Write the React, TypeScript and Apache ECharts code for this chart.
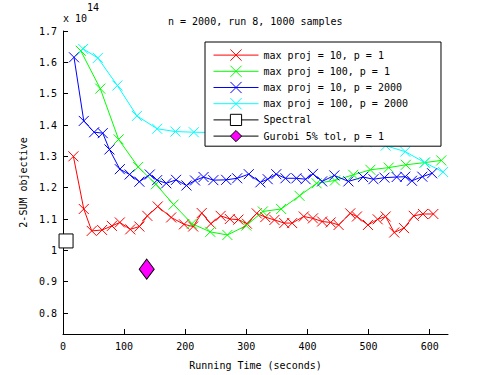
import React, { useEffect, useRef } from "react";
import * as echarts from "echarts";

const TITLE = "n = 2000, run 8, 1000 samples";
const X_NAME = "Running Time (seconds)";
const Y_NAME = "2-SUM objective";
const X_TICKS = [0, 100, 200, 300, 400, 500, 600];
const Y_TICKS = [0.8, 0.9, 1.0, 1.1, 1.2, 1.3, 1.4, 1.5, 1.6, 1.7];

const RED_NAME = "max proj = 10, p = 1";
const RED_T = [17, 34, 47, 64, 80, 93, 110, 125, 138, 155, 177, 198, 213, 227, 242, 258, 273, 287, 301, 317, 331, 346, 362, 375, 394, 409, 424, 438, 451, 470, 481, 499, 515, 528, 542, 558, 574, 589, 606];
const RED_V = [1.3, 1.132, 1.062, 1.065, 1.078, 1.089, 1.067, 1.076, 1.11, 1.14, 1.105, 1.083, 1.076, 1.119, 1.085, 1.11, 1.1, 1.098, 1.085, 1.118, 1.106, 1.097, 1.087, 1.087, 1.108, 1.102, 1.092, 1.089, 1.081, 1.118, 1.108, 1.081, 1.099, 1.108, 1.057, 1.071, 1.11, 1.116, 1.116];

const GREEN_NAME = "max proj = 100, p = 1";
const GREEN_T = [29, 61, 91, 123, 152, 181, 211, 241, 269, 300, 327, 357, 387, 415, 445, 475, 503, 533, 561, 592, 619];
const GREEN_V = [1.637, 1.516, 1.354, 1.266, 1.211, 1.146, 1.085, 1.059, 1.049, 1.079, 1.124, 1.132, 1.174, 1.214, 1.223, 1.241, 1.257, 1.264, 1.273, 1.28, 1.287];

const BLUE_NAME = "max proj = 10, p = 2000";
const BLUE_T = [18, 34, 51, 65, 76, 93, 109, 125, 142, 154, 169, 185, 202, 216, 230, 246, 267, 285, 304, 323, 335, 349, 364, 382, 397, 409, 424, 444, 467, 491, 508, 526, 546, 560, 571, 588, 604];
const BLUE_V = [1.616, 1.413, 1.377, 1.374, 1.322, 1.259, 1.242, 1.219, 1.242, 1.224, 1.214, 1.225, 1.207, 1.223, 1.234, 1.224, 1.225, 1.23, 1.243, 1.217, 1.227, 1.243, 1.23, 1.23, 1.227, 1.244, 1.22, 1.239, 1.22, 1.234, 1.227, 1.232, 1.234, 1.235, 1.222, 1.235, 1.246];

const CYAN_NAME = "max proj = 100, p = 2000";
const CYAN_T = [33, 57, 89, 121, 154, 184, 214, 245, 276, 308, 339, 370, 402, 433, 464, 496, 528, 560, 592, 622];
const CYAN_V = [1.643, 1.614, 1.526, 1.429, 1.388, 1.379, 1.377, 1.376, 1.375, 1.374, 1.372, 1.369, 1.365, 1.36, 1.354, 1.345, 1.334, 1.315, 1.28, 1.25];

const SPECTRAL_NAME = "Spectral";
const SPECTRAL_T = [5];
const SPECTRAL_V = [1.03];

const GUROBI_NAME = "Gurobi 5% tol, p = 1";
const GUROBI_T = [137];
const GUROBI_V = [0.94];

const FONT = "DejaVu Sans Mono";
const CROSS = "path://M0,0L10,10M0,10L10,0";

const zip = (t: number[], v: number[]) => t.map((x, i) => [x, v[i]]);

const crossSeries = (name: string, t: number[], v: number[], color: string) => ({
  name,
  type: "line",
  data: zip(t, v),
  symbol: CROSS,
  symbolSize: 10,
  showSymbol: true,
  showAllSymbol: true,
  lineStyle: { color, width: 1 },
  itemStyle: { color, borderColor: color, borderWidth: 1 },
  emphasis: { disabled: true },
});

export default function App() {
  const ref = useRef<HTMLDivElement>(null);
  useEffect(() => {
    if (!ref.current) return;
    const chart = echarts.init(ref.current, null, { renderer: "svg" });
    chart.setOption({
      animation: false,
      backgroundColor: "#fff",
      textStyle: { fontFamily: FONT },
      title: {
        text: TITLE,
        left: 168,
        top: 16,
        padding: 0,
        textStyle: { fontFamily: FONT, fontSize: 10, fontWeight: "normal", color: "#000" },
      },
      grid: { left: 63, right: 47, top: 31, bottom: 41, containLabel: false, outerBoundsMode: "none" },
      xAxis: {
        type: "value",
        min: 0,
        max: 630,
        name: X_NAME,
        nameLocation: "middle",
        nameGap: 26,
        nameTextStyle: { fontFamily: FONT, fontSize: 10, color: "#000" },
        axisLine: { show: true, lineStyle: { color: "#000", width: 1 } },
        axisTick: { show: true, inside: true, length: 5, customValues: X_TICKS, lineStyle: { color: "#000" } },
        axisLabel: { customValues: X_TICKS, margin: 7, fontFamily: FONT, fontSize: 10, color: "#000" },
        splitLine: { show: false },
      },
      yAxis: {
        type: "value",
        min: 0.733,
        max: 1.7,
        name: Y_NAME,
        nameLocation: "middle",
        nameRotate: 90,
        nameGap: 31,
        nameTextStyle: { fontFamily: FONT, fontSize: 10, color: "#000" },
        axisLine: { show: true, lineStyle: { color: "#000", width: 1 } },
        axisTick: { show: true, inside: true, length: 5, customValues: Y_TICKS, lineStyle: { color: "#000" } },
        axisLabel: {
          customValues: Y_TICKS,
          margin: 6,
          fontFamily: FONT,
          fontSize: 10,
          color: "#000",
          formatter: (v: number) => String(Number(v.toFixed(1))),
        },
        splitLine: { show: false },
      },
      legend: {
        orient: "vertical",
        left: 205,
        top: 42,
        padding: [7, 33, 4, 8],
        itemWidth: 45,
        itemHeight: 14,
        itemGap: 4,
        selectedMode: false,
        backgroundColor: "#fff",
        borderColor: "#000",
        borderWidth: 1,
        borderRadius: 0,
        lineStyle: { width: 1 },
        itemStyle: { borderWidth: 1 },
        textStyle: { fontFamily: FONT, fontSize: 10, color: "#000" },
        data: [RED_NAME, GREEN_NAME, BLUE_NAME, CYAN_NAME, SPECTRAL_NAME, GUROBI_NAME],
      },
      graphic: [
        { type: "text", left: 63, top: 13, style: { text: "x 10", font: `10px ${FONT}`, fill: "#000" } },
        { type: "text", left: 87, top: 2, style: { text: "14", font: `10px ${FONT}`, fill: "#000" } },
      ],
      series: [
        crossSeries(RED_NAME, RED_T, RED_V, "#ff0000"),
        crossSeries(GREEN_NAME, GREEN_T, GREEN_V, "#00ff00"),
        crossSeries(BLUE_NAME, BLUE_T, BLUE_V, "#0000ff"),
        crossSeries(CYAN_NAME, CYAN_T, CYAN_V, "#00ffff"),
        {
          name: SPECTRAL_NAME,
          type: "line",
          data: zip(SPECTRAL_T, SPECTRAL_V),
          symbol: "rect",
          symbolSize: 14,
          lineStyle: { color: "#000", width: 1 },
          itemStyle: { color: "#fff", borderColor: "#000", borderWidth: 1 },
          emphasis: { disabled: true },
        },
        {
          name: GUROBI_NAME,
          type: "line",
          data: zip(GUROBI_T, GUROBI_V),
          symbol: "diamond",
          symbolSize: [15, 20],
          lineStyle: { color: "#000", width: 1 },
          itemStyle: { color: "#ff00ff", borderColor: "#000", borderWidth: 1 },
          emphasis: { disabled: true },
        },
      ],
    });
    return () => chart.dispose();
  }, []);
  return <div ref={ref} style={{ width: 495, height: 375, position: "absolute", left: 0, top: 0 }} />;
}
